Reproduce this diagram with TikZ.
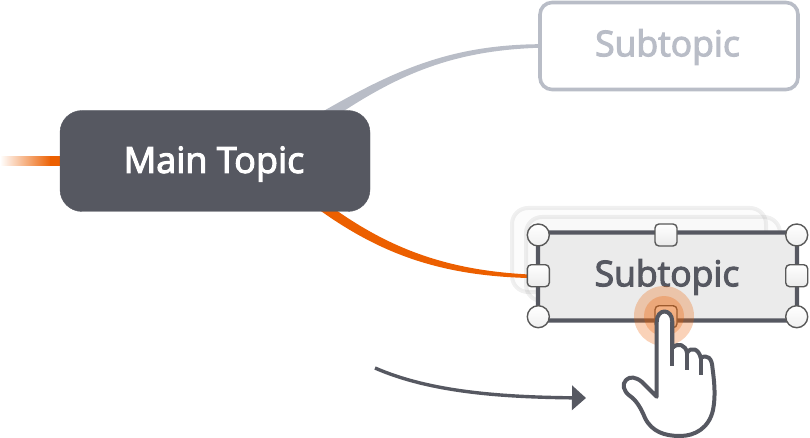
\documentclass[tikz,border=0pt]{standalone}
\usepackage{fontspec}
\setmainfont{Open Sans}
\newfontfamily\topicfont[FakeBold=3]{Open Sans}
\usetikzlibrary{arrows.meta}
\definecolor{slate}{HTML}{565861}
\definecolor{mist}{HTML}{B9BDC7}
\definecolor{flame}{HTML}{EC5F00}
\begin{document}
\begin{tikzpicture}[x=1pt,y=-1pt,
				topic/.style={rectangle,draw=slate,fill=slate,rounded corners=22pt,minimum width=310pt,minimum height=101pt},
				faded/.style={rectangle,draw=mist,line width=3.6pt,fill=white,rounded corners=12pt,minimum width=258pt,minimum height=87pt},
				active/.style={rectangle,draw=slate,line width=4.4pt,fill=black!8,rounded corners=9pt,minimum width=259pt,minimum height=88pt},
				ghost/.style={rectangle,draw=black,line width=4pt,fill=black,rounded corners=16pt,minimum width=254pt,minimum height=84pt,draw opacity=0.06,fill opacity=0.012},
				sublabel/.style={font=\topicfont\fontsize{35.5}{40}\selectfont},
				cornerhandle/.style={circle,draw=black!65,line width=1.4pt,top color=white,bottom color=black!6,minimum size=22pt,inner sep=0pt},
				sidehandle/.style={rectangle,draw=black!65,line width=1.4pt,top color=white,bottom color=black!8,rounded corners=4pt,minimum size=22pt,inner sep=0pt},
				halo/.style={circle,fill=flame,opacity=0.28,inner sep=0pt}]
\useasboundingbox (0,0) rectangle (810,438);
\coordinate (grayroot) at (322,114);
\coordinate (grayroot2) at (330,118);
\coordinate (orangeroot) at (326,205);
\coordinate (orangeroot2) at (321,209);
\coordinate (dragstart) at (375,368);
\coordinate (dragend) at (586,398);
% branches
\node[faded] (subtop) at (669,46) {};
\filldraw[mist,line width=3.6pt] (grayroot) .. controls (395,72) and (450,47) .. (subtop.west) .. controls (450,49) and (395,74) .. (grayroot2);
\shade[left color=white,right color=flame] (0,156.5) rectangle (52,166);
\node[rectangle,fill=flame,minimum width=12pt,minimum height=9.5pt,inner sep=0pt] (stub) at (56,161.2) {};
\node[ghost] (ghostone) at (639,250) {};
\node[ghost] (ghosttwo) at (653,259) {};
\node[active] (subact) at (667.5,276.5) {};
\filldraw[flame,line width=3.4pt] (orangeroot) .. controls (390,252) and (450,273) .. (subact.west) .. controls (450,275) and (388,257) .. (orangeroot2);
\node[topic] (main) at (215,161) {};
\node[text=white,font=\topicfont\fontsize{36}{40}\selectfont] (mainlabel) at (214,164) {Main Topic};
\node[sublabel,text=mist] (toplabel) at (667.5,47) {Subtopic};
\node[sublabel,text=slate] (actlabel) at (667,277) {Subtopic};
% handles
\node[cornerhandle] (hnw) at (538.3,235) {};
\node[cornerhandle] (hne) at (796.7,235) {};
\node[cornerhandle] (hsw) at (538.3,316.7) {};
\node[cornerhandle] (hse) at (796.7,316.7) {};
\node[sidehandle] (hn) at (666,235) {};
\node[sidehandle] (hw) at (538.3,275.7) {};
\node[sidehandle] (he) at (796.7,275.7) {};
\node[sidehandle] (hs) at (666,316.7) {};
\node[halo,minimum size=60pt] (haloout) at (664,316) {};
\node[halo,minimum size=40pt] (haloin) at (664,316) {};
% arrow
\draw[slate,line width=3.4pt,-{Triangle[length=14pt,width=24pt]}] (dragstart) .. controls (430,392) and (500,397) .. (dragend);
% hand
\draw[slate,line width=4pt,fill=white,line join=round] (656.7,396.7) -- (656.7,322) .. controls (656.7,308) and (672.3,308) .. (672.3,322) -- (672.3,348)
	.. controls (678,342) and (686,345) .. (687,353) .. controls (691,346) and (699,349) .. (700.7,358)
	.. controls (707,354) and (712,358) .. (712.5,368) .. controls (714,380) and (716,395) .. (713,410)
	.. controls (709,428) and (695,436) .. (680,436) .. controls (665,436) and (652,432) .. (645,418)
	.. controls (641,408) and (636,400) .. (630,396) .. controls (623,391) and (622,384) .. (626,380)
	.. controls (630,376) and (636,377) .. (642,382) -- cycle;
\draw[slate,line width=4pt] (672.3,322) -- (672.3,366);
\draw[slate,line width=4pt] (687,353) -- (687,370);
\draw[slate,line width=4pt] (700.7,358) -- (700.7,375);
\end{tikzpicture}
\end{document}
